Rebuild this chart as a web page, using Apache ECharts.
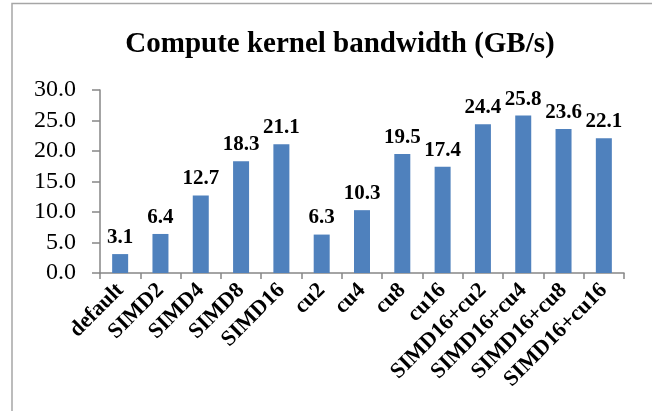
<!DOCTYPE html>
<html>
<head>
<meta charset="utf-8">
<script src="https://cdn.jsdelivr.net/npm/echarts@6/dist/echarts.min.js"></script>
<style>
  html, body { margin: 0; padding: 0; background: #fff; }
  #chart { width: 652px; height: 411px; }
</style>
</head>
<body>
<div id="chart"></div>
<script>
// Kernel configurations along the x axis
const categories = ['default', 'SIMD2', 'SIMD4', 'SIMD8', 'SIMD16', 'cu2', 'cu4', 'cu8', 'cu16',
  'SIMD16+cu2', 'SIMD16+cu4', 'SIMD16+cu8', 'SIMD16+cu16'];
// Measured bandwidth in GB/s
const bandwidth = [3.1, 6.4, 12.7, 18.3, 21.1, 6.3, 10.3, 19.5, 17.4, 24.4, 25.8, 23.6, 22.1];
// Value axis range
const yMin = 0, yMax = 30, yStep = 5;

const serif = '"Liberation Serif", "Times New Roman", serif';
const axisGray = '#868686';

const chart = echarts.init(document.getElementById('chart'), null, { renderer: 'canvas' });
chart.setOption({
  animation: false,
  backgroundColor: '#ffffff',
  title: {
    text: 'Compute kernel bandwidth (GB/s)',
    left: 335, top: 25, textAlign: 'center',
    textStyle: { fontFamily: serif, fontWeight: 'bold', fontSize: 29, color: '#000' }
  },
  graphic: [{
    type: 'polyline', silent: true,
    shape: { points: [[12, 411], [12, 3.5], [652, 3.5]] },
    style: { stroke: '#a6a6a6', lineWidth: 1.5, fill: null }
  }],
  grid: { left: 100, right: 28, top: 90, bottom: 138, containLabel: false },
  xAxis: {
    type: 'category',
    data: categories,
    axisLine: { lineStyle: { color: axisGray, width: 1.5 } },
    axisTick: { show: true, length: 6, alignWithLabel: false, lineStyle: { color: axisGray, width: 1.5 } },
    axisLabel: {
      rotate: 45, interval: 0, margin: 14,
      fontFamily: serif, fontWeight: 'bold', fontSize: 22, color: '#000'
    },
    splitLine: { show: false }
  },
  yAxis: {
    type: 'value',
    min: yMin, max: yMax, interval: yStep,
    axisLine: { show: true, lineStyle: { color: axisGray, width: 1.5 } },
    axisTick: { show: true, length: 8, lineStyle: { color: axisGray, width: 1.5 } },
    axisLabel: {
      margin: 24,
      formatter: v => v.toFixed(1),
      fontFamily: serif, fontSize: 24, color: '#000'
    },
    splitLine: { show: false }
  },
  series: [{
    type: 'bar',
    data: bandwidth,
    barWidth: 16,
    itemStyle: { color: '#4f81bd' },
    label: {
      show: true, position: 'top', distance: 6,
      formatter: p => p.value.toFixed(1),
      fontFamily: serif, fontWeight: 'bold', fontSize: 21, color: '#000'
    }
  }]
});
</script>
</body>
</html>
